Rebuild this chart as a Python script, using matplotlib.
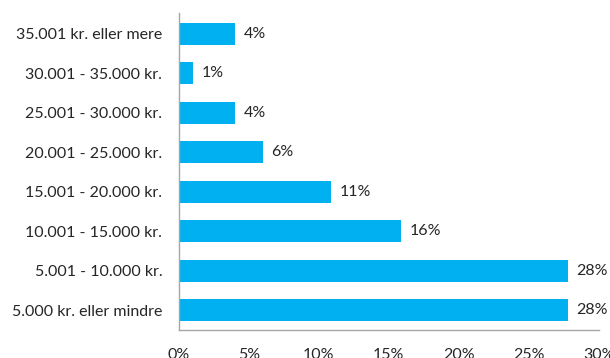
import matplotlib

matplotlib.use("Agg")
import matplotlib.pyplot as plt
from matplotlib.ticker import FuncFormatter

# income brackets, bottom to top
categories = [
    "5.000 kr. eller mindre",
    "5.001 - 10.000 kr.",
    "10.001 - 15.000 kr.",
    "15.001 - 20.000 kr.",
    "20.001 - 25.000 kr.",
    "25.001 - 30.000 kr.",
    "30.001 - 35.000 kr.",
    "35.001 kr. eller mere",
]
shares = [27.8, 27.8, 15.9, 10.9, 6.0, 4.0, 1.0, 4.0]
xticks = [0, 5, 10, 15, 20, 25, 30]

BAR = "#00B0F0"
TEXT = "#262626"
AXIS = "#A6A6A6"

plt.rcParams["font.family"] = ["Lato", "DejaVu Sans"]

fig = plt.figure(figsize=(6.10, 3.58), dpi=100)
ax = fig.add_axes([0.2934, 0.078, 0.688, 0.886])

ypos = list(range(len(categories)))
ax.barh(ypos, shares, height=0.56, color=BAR, zorder=2)
for y, v in zip(ypos, shares):
    ax.text(v + 0.6, y, f"{v:.0f}%", va="center", ha="left", fontsize=11.5, color=TEXT)

ax.set_yticks(ypos)
ax.set_yticklabels(categories, fontsize=11.5, color=TEXT)
ax.set_ylim(-0.5, 7.53)
ax.set_xlim(0, 30)
ax.set_xticks(xticks)
ax.xaxis.set_major_formatter(FuncFormatter(lambda v, _: f"{v:.0f}%"))
ax.tick_params(axis="x", length=0, pad=13, labelsize=11.5, labelcolor=TEXT)
ax.tick_params(axis="y", length=0, pad=12)

for side in ("top", "right"):
    ax.spines[side].set_visible(False)
for side in ("left", "bottom"):
    ax.spines[side].set_color(AXIS)
    ax.spines[side].set_linewidth(1.0)

fig.savefig("out.png", dpi=100)
